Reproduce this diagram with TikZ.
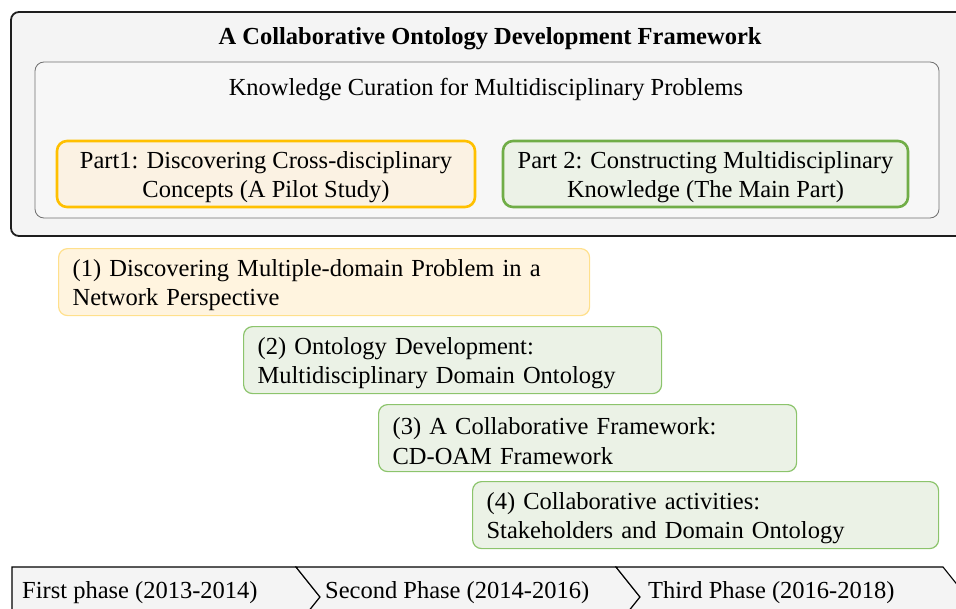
\documentclass[tikz,border=0pt]{standalone}
\usepackage{fontspec}
\setmainfont{Liberation Serif}
\definecolor{framefill}{HTML}{F4F4F4}
\definecolor{framedraw}{HTML}{1E1E1E}
\definecolor{innerfill}{HTML}{F7F7F7}
\definecolor{innerdraw}{HTML}{707070}
\definecolor{partonefill}{HTML}{FBF2E3}
\definecolor{partonedraw}{HTML}{FFC000}
\definecolor{parttwofill}{HTML}{ECF2E7}
\definecolor{parttwodraw}{HTML}{70AD47}
\definecolor{taskonefill}{HTML}{FFF4DF}
\definecolor{taskonedraw}{HTML}{FFE08C}
\definecolor{tasktwofill}{HTML}{EBF2E6}
\definecolor{tasktwodraw}{HTML}{8CC46C}
\tikzset{
    every node/.style={font=\fontsize{24.5}{29.5}\selectfont},
    partbox/.style={draw, line width=2.6pt, rounded corners=10pt, align=center, inner sep=0pt, text height=52.5pt},
    taskbox/.style={draw, line width=1.2pt, rounded corners=9pt, align=left, inner xsep=14pt, inner ysep=0pt, anchor=north west, minimum height=67pt, text height=23pt},
    phase/.style={draw=black, fill=framefill, line width=1.1pt},
    phasetext/.style={anchor=west, inner sep=0pt}
}
\begin{document}
\begin{tikzpicture}[x=1pt, y=-1pt]
    \useasboundingbox (0,0) rectangle (956,608);
    \clip (0,0) rectangle (956,608);

    % Draw outer frame and inner box
    \draw[line width=1.8pt, draw=framedraw, fill=framefill, rounded corners=8pt] (975,12) -- (11,12) -- (11,236) -- (975,236);
    \node[font=\bfseries\fontsize{24.5}{29.5}\selectfont] (title) at (490,39) {A Collaborative Ontology Development Framework};
    \draw[line width=0.8pt, draw=innerdraw, fill=innerfill, rounded corners=9pt] (35,62) rectangle (939,218);
    \node (curation) at (486,90) {Knowledge Curation for Multidisciplinary Problems};

    % Add the two parts
    \node[partbox, draw=partonedraw, fill=partonefill, minimum width=418pt, minimum height=66pt] (part1) at (266,174) {Part1: Discovering Cross-disciplinary\\Concepts (A Pilot Study)};
    \node[partbox, draw=parttwodraw, fill=parttwofill, minimum width=405pt, minimum height=66pt] (part2) at (705.5,174) {Part 2: Constructing Multidisciplinary\\Knowledge (The Main Part)};

    % Add the steps
    \node[taskbox, draw=taskonedraw, fill=taskonefill, text width=503pt] (step1) at (58,248) {(1) Discovering Multiple-domain Problem in a\\Network Perspective};
    \node[taskbox, draw=tasktwodraw, fill=tasktwofill, text width=390pt] (step2) at (243,326) {(2) Ontology Development:\\Multidisciplinary Domain Ontology};
    \node[taskbox, draw=tasktwodraw, fill=tasktwofill, text width=390pt] (step3) at (378,404) {(3) A Collaborative Framework:\\CD-OAM Framework};
    \node[taskbox, draw=tasktwodraw, fill=tasktwofill, text width=438pt] (step4) at (472,481) {(4) Collaborative activities:\\Stakeholders and Domain Ontology};

    % Draw phase arrows
    \draw[phase] (12,567) -- (296,567) -- (320,597) -- (296,627) -- (12,627) -- cycle;
    \foreach \a/\b in {296/616, 616/943} {
        \draw[phase] (\a,567) -- (\b,567) -- (\b+24,597) -- (\b,627) -- (\a,627) -- (\a+24,597) -- cycle;
    }
    \node[phasetext] (first) at (22,593) {First phase (2013-2014)};
    \node[phasetext] (second) at (325,593) {Second Phase (2014-2016)};
    \node[phasetext] (third) at (648,593) {Third Phase (2016-2018)};
\end{tikzpicture}
\end{document}
